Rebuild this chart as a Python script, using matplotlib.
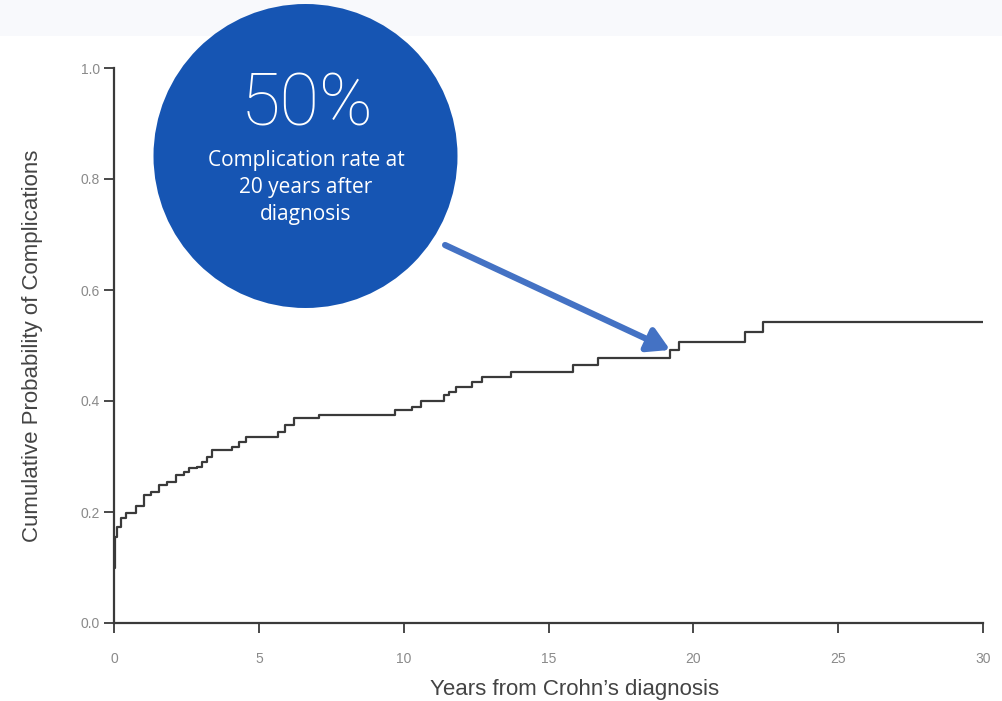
import matplotlib
matplotlib.use("Agg")
import matplotlib.pyplot as plt
from matplotlib.patches import Circle, Rectangle

plt.rcParams['font.family'] = ['Liberation Sans', 'DejaVu Sans']

# Step times (years) and cumulative probability after each step
times = [0, 0.02, 0.05, 0.10, 0.25, 0.40, 0.76, 1.03, 1.28, 1.55, 1.83, 2.14, 2.40,
         2.60, 2.86, 3.03, 3.20, 3.38, 4.07, 4.30, 4.55, 5.66, 5.90, 6.20, 7.07,
         9.70, 10.30, 10.60, 11.40, 11.55, 11.80, 12.35, 12.70, 13.70, 15.86,
         16.70, 19.20, 19.50, 21.80, 22.40, 30.0]
probs = [0.10, 0.13, 0.155, 0.173, 0.19, 0.198, 0.21, 0.23, 0.236, 0.249, 0.254,
         0.267, 0.272, 0.279, 0.281, 0.29, 0.30, 0.312, 0.317, 0.326, 0.335, 0.344,
         0.357, 0.369, 0.375, 0.384, 0.389, 0.400, 0.41, 0.416, 0.425, 0.434,
         0.443, 0.452, 0.465, 0.477, 0.492, 0.506, 0.524, 0.542, 0.542]

xticks = [0, 5, 10, 15, 20, 25, 30]
yticks = [0.0, 0.2, 0.4, 0.6, 0.8, 1.0]
ytick_labels = ["0.0", "0.2", "0.4", "0.6", "0.8", "1.0"]

headline = "50%"
subtext = "Complication rate at\n20 years after\ndiagnosis"

fig = plt.figure(figsize=(10.02, 7.01), dpi=100)
fig.patch.set_facecolor("white")

# light top band
fig.patches.append(Rectangle((0, 1 - 36 / 701), 1, 36 / 701, transform=fig.transFigure,
                             facecolor="#f8f9fc", edgecolor="none", zorder=0))

ax = fig.add_axes([114 / 1002, 1 - 623 / 701, (983 - 114) / 1002, (623 - 68) / 701])
ax.step(times, probs, where="post", color="#3a3a3a", lw=1.6)
ax.set_xlim(0, 30)
ax.set_ylim(0, 1.0)
ax.set_xticks(xticks)
ax.set_xticklabels([str(v) for v in xticks])
ax.set_yticks(yticks)
ax.set_yticklabels(ytick_labels)
for s in ["top", "right"]:
    ax.spines[s].set_visible(False)
for s in ["left", "bottom"]:
    ax.spines[s].set_color("#3a3a3a")
    ax.spines[s].set_linewidth(1.6)
ax.tick_params(axis="both", direction="out", length=7, width=1.3, color="#3a3a3a",
               labelcolor="#8a8a8a", labelsize=10)
ax.tick_params(axis="x", pad=14)
ax.tick_params(axis="y", pad=3)
ax.set_xlabel("Years from Crohn\u2019s diagnosis", fontsize=16, color="#444444")
ax.xaxis.set_label_coords(0.5305, -(690 - 623) / 555, transform=ax.transAxes)
ax.xaxis.label.set_va("center")
ax.set_ylabel("Cumulative Probability of Complications", fontsize=16, color="#444444")
ax.yaxis.set_label_coords(-(114 - 33) / 869, 0.5, transform=ax.transAxes)
ax.yaxis.label.set_va("center")
ax.patch.set_alpha(0)

# arrow
ax.annotate("", xy=(19.2, 0.492), xytext=(11.43, 0.681),
            arrowprops=dict(arrowstyle="-|>,head_length=1.3,head_width=0.75",
                            color="#4472c4", lw=4.5, shrinkA=0, shrinkB=0),
            annotation_clip=False)

# circle callout
circ = Circle((305.5 / 100, (701 - 156) / 100), 1.52, transform=fig.dpi_scale_trans,
              facecolor="#1655b3", edgecolor="none", zorder=5)
fig.patches.append(circ)
fig.text(307 / 1002, 1 - 106 / 701, headline, ha="center", va="center", color="white",
         fontsize=52, family=["Roboto", "DejaVu Sans"], fontweight="light", zorder=6)
fig.text(306 / 1002, 1 - 187.5 / 701, subtext, ha="center", va="center", color="white",
         fontsize=15, family=["Open Sans", "DejaVu Sans"], linespacing=1.38, zorder=6)

fig.savefig("out.png", dpi=100)
